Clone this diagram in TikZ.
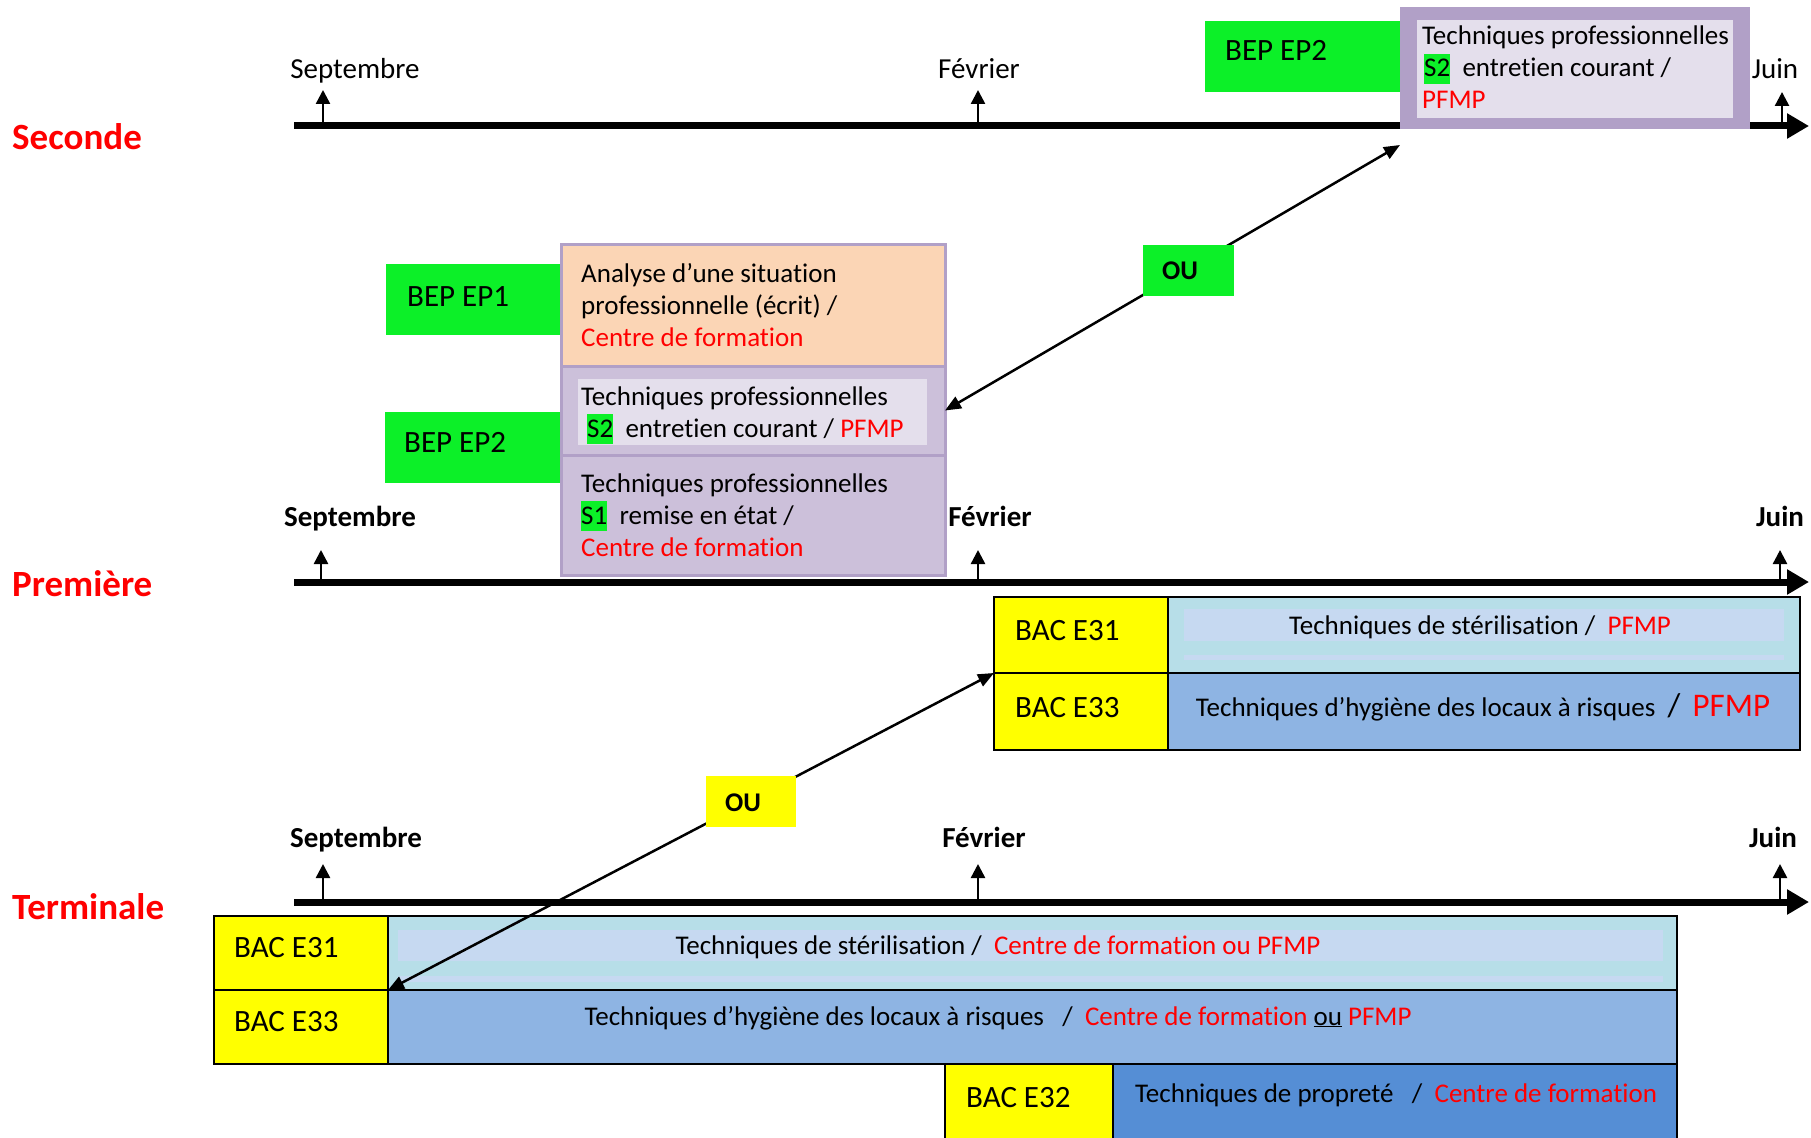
\documentclass[tikz,border=0pt]{standalone}
\usepackage{fontspec}
\setmainfont[Ligatures=NoCommon]{Carlito}
\usetikzlibrary{arrows.meta,calc}
\definecolor{bepgreen}{RGB}{12,240,40}
\definecolor{bacyellow}{RGB}{255,255,0}
\definecolor{purpD}{RGB}{177,160,199}
\definecolor{purpM}{RGB}{204,192,218}
\definecolor{purpL}{RGB}{228,223,236}
\definecolor{orangeL}{RGB}{251,213,181}
\definecolor{blueL}{RGB}{183,222,232}
\definecolor{blueLL}{RGB}{198,217,241}
\definecolor{blueM}{RGB}{142,180,227}
\definecolor{blueD}{RGB}{85,142,213}
\definecolor{redT}{RGB}{255,0,0}
\newcommand{\fsz}[1]{\fontsize{#1}{#1}\selectfont}
\newcommand{\hlg}[1]{{\setlength{\fboxsep}{0pt}\colorbox{bepgreen}{\rule[-7pt]{0pt}{30pt}#1}}}
\begin{document}
\begin{tikzpicture}[x=1pt,y=-1pt,
  box/.style={rectangle, inner sep=0pt, outer sep=0pt, anchor=north west},
  txt/.style={inner sep=0pt, anchor=base west, font=\fsz{27}},
  ctxt/.style={inner sep=0pt, anchor=base, font=\fsz{27}},
  lab/.style={inner sep=0pt, anchor=base west, font=\fsz{31}},
  month/.style={inner sep=0pt, anchor=base, font=\fsz{29}},
  bmonth/.style={inner sep=0pt, anchor=base, font=\fsz{29}\bfseries},
  year/.style={inner sep=0pt, anchor=base west, font=\fsz{37}\bfseries, text=redT},
  oubox/.style={inner sep=0pt, anchor=base west, font=\fsz{27}\bfseries},
  axis/.style={line width=7pt, -{Triangle[length=22pt,width=24pt]}},
  tick/.style={line width=2.5pt, -{Triangle[length=14pt,width=14pt]}},
  conn/.style={line width=2.5pt, {Triangle[length=16pt,width=13pt]}-{Triangle[length=16pt,width=13pt]}},
  bac/.style={box, fill=bacyellow, draw=black, line width=2pt},
  bep/.style={box, fill=bepgreen}
]
\useasboundingbox (0,0) rectangle (1811,1137);

% ---------- axes ----------
\coordinate (ax1s) at (294,126);  \coordinate (ax1e) at (1809,126);
\coordinate (ax2s) at (294,582);  \coordinate (ax2e) at (1809,582);
\coordinate (ax3s) at (294,902);  \coordinate (ax3e) at (1809,902);
\draw[axis] (ax1s) -- (ax1e);
\draw[axis] (ax2s) -- (ax2e);
\draw[axis] (ax3s) -- (ax3e);

% ticks
\foreach \n/\x/\ya/\yb in {a/323/126/90, b/978/126/90, c/1782/126/92,
                           d/321/582/550, e/978/582/550, f/1780/582/550,
                           g/323/902/864, h/978/902/864, i/1780/902/864}{
  \coordinate (tk\n0) at (\x,\ya);
  \coordinate (tk\n1) at (\x,\yb);
  \draw[tick] (tk\n0) -- (tk\n1);
}

% year labels
\node[year] (seconde) at (12,149) {Seconde};
\node[year] (premiere) at (12,596) {Première};
\node[year] (terminale) at (12,919) {Terminale};

% months
\node[month] (m1a) at (355,79) {Septembre};
\node[month] (m1b) at (979,79) {Février};
\node[month] (m1c) at (1775,79) {Juin};
\node[bmonth] (m2a) at (350,526) {Septembre};
\node[bmonth] (m2b) at (990,526) {Février};
\node[bmonth] (m2c) at (1780,526) {Juin};
\node[bmonth] (m3a) at (356,847) {Septembre};
\node[bmonth] (m3b) at (984,847) {Février};
\node[bmonth] (m3c) at (1773,847) {Juin};

% ---------- Seconde: BEP EP2 top ----------
\node[bep, minimum width=196pt, minimum height=71pt] (ep2s) at (1205,21) {};
\node[lab] (ep2sl) at (1225,61) {BEP EP2};
\node[box, fill=purpD, minimum width=350pt, minimum height=122pt] (purp) at (1400,7) {};
\node[box, fill=purpL, minimum width=316pt, minimum height=98pt] (purpin) at (1417,20) {};
\node[txt] (pt1) at (1422,45) {Techniques professionnelles};
\node[txt] (pt2) at (1424,77) {\hlg{S2}\ \ entretien courant /};
\node[txt, text=redT] (pt3) at (1422,109) {PFMP};

% ---------- middle block ----------
\node[bep, minimum width=176pt, minimum height=71pt] (ep1) at (386,264) {};
\node[lab] (ep1l) at (407,306) {BEP EP1};
\node[bep, minimum width=177pt, minimum height=71pt] (ep2m) at (385,412) {};
\node[lab] (ep2ml) at (404,452) {BEP EP2};

\node[box, fill=orangeL, draw=purpD, line width=3pt, minimum width=384pt, minimum height=122pt] (ep1box) at (561,244) {};
\node[box, fill=purpM, draw=purpD, line width=3pt, minimum width=384pt, minimum height=89pt] (sec2) at (561,366) {};
\node[box, fill=purpL, minimum width=349pt, minimum height=66pt] (sec2in) at (578,379) {};
\node[box, fill=purpM, draw=purpD, line width=3pt, minimum width=384pt, minimum height=120pt] (sec3) at (561,455) {};

\node[txt] (a1) at (581,282) {Analyse d’une situation};
\node[txt] (a2) at (581,314) {professionnelle (écrit) /};
\node[txt, text=redT] (a3) at (581,346) {Centre de formation};
\node[txt] (b1) at (581,405) {Techniques professionnelles};
\node[txt] (b2) at (587,437) {\hlg{S2}\ \ entretien courant / \textcolor{redT}{PFMP}};
\node[txt] (c1) at (581,492) {Techniques professionnelles};
\node[txt] (c2) at (581,524) {\hlg{S1}\ \ remise en état /};
\node[txt, text=redT] (c3) at (581,556) {Centre de formation};

% connector 1
\coordinate (a1top) at ($(purp.south west)+(0,16)$);
\draw[conn] (sec2.east) -- (a1top);
\node[bep, minimum width=91pt, minimum height=51pt] (ou1) at (1143,245) {};
\node[oubox] (ou1l) at (1162,279) {OU};

% ---------- Première: BAC ----------
\node[bac, minimum width=174pt, minimum height=76pt] (e31p) at (994,597) {};
\node[bac, fill=blueL, minimum width=632pt, minimum height=76pt] (e31pb) at (1168,597) {};
\node[box, fill=blueLL, minimum width=600pt, minimum height=32pt] (e31pbi) at (1184,609) {};
\node[box, fill=blueLL, minimum width=600pt, minimum height=5pt] (e31pbj) at (1184,655) {};
\node[bac, minimum width=174pt, minimum height=77pt] (e33p) at (994,673) {};
\node[bac, fill=blueM, minimum width=632pt, minimum height=77pt] (e33pb) at (1168,673) {};
\node[lab] (e31pl) at (1015,640) {BAC E31};
\node[lab] (e33pl) at (1015,717) {BAC E33};
\node[ctxt] (e31pt) at (1480,634) {Techniques de stérilisation /\ \ \textcolor{redT}{PFMP}};
\node[ctxt] (e33pt) at (1483,716) {Techniques d’hygiène des locaux à risques\ \ {\fsz{33}/}\ \ \textcolor{redT}{\fsz{33}PFMP}};

% ---------- Terminale: BAC ----------
\node[bac, minimum width=174pt, minimum height=74pt] (e31t) at (214,916) {};
\node[bac, fill=blueL, minimum width=1289pt, minimum height=74pt] (e31tb) at (388,916) {};
\node[box, fill=blueLL, minimum width=1265pt, minimum height=31pt] (e31tbi) at (398,930) {};
\node[box, fill=blueLL, minimum width=1265pt, minimum height=6pt] (e31tbj) at (398,976) {};
\node[bac, minimum width=174pt, minimum height=74pt] (e33t) at (214,990) {};
\node[bac, fill=blueM, minimum width=1289pt, minimum height=74pt] (e33tb) at (388,990) {};
\node[bac, minimum width=168pt, minimum height=80pt] (e32t) at (945,1064) {};
\node[bac, fill=blueD, minimum width=564pt, minimum height=80pt] (e32tb) at (1113,1064) {};
\node[lab] (e31tl) at (234,957) {BAC E31};
\node[lab] (e33tl) at (234,1031) {BAC E33};
\node[lab] (e32tl) at (966,1107) {BAC E32};
\node[ctxt] (e31tt) at (998,954) {Techniques de stérilisation /\ \ \textcolor{redT}{Centre de formation ou PFMP}};
\node[ctxt] (e33tt) at (998,1025) {Techniques d’hygiène des locaux à risques\ \ \ /\ \ \textcolor{redT}{Centre de formation} \underline{ou} \textcolor{redT}{PFMP}};
\node[txt] (e32tt) at (1135,1102) {Techniques de propreté\ \ \ /\ \ \textcolor{redT}{Centre de formation}};

% connector 2
\draw[conn] (e33p.north west) -- (e31t.south east);
\node[box, fill=bacyellow, minimum width=90pt, minimum height=51pt] (ou2) at (706,776) {};
\node[oubox] (ou2l) at (725,811) {OU};

\end{tikzpicture}
\end{document}
